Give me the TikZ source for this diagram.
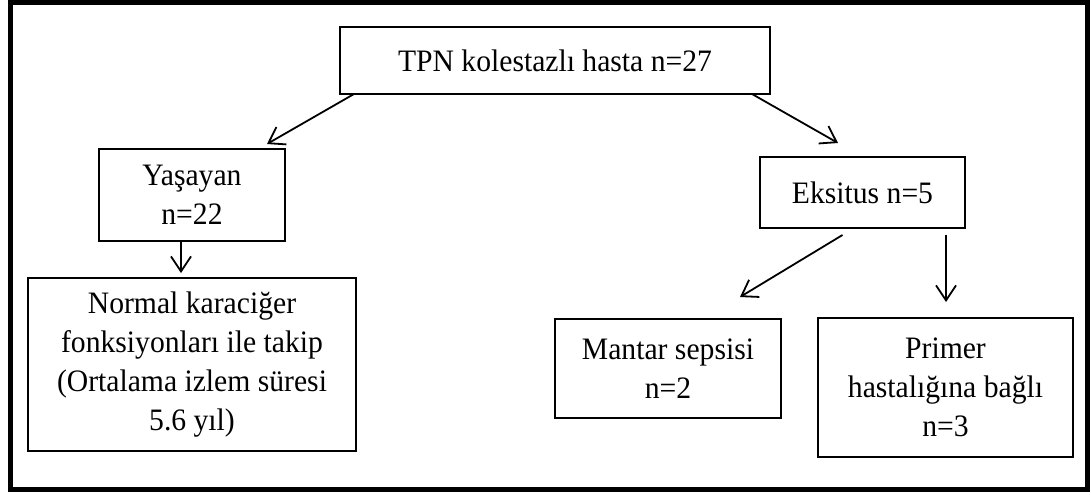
\documentclass[tikz,border=0pt]{standalone}
\usepackage{fontspec}
\setmainfont[FakeStretch=0.95]{Liberation Serif}
\usepackage{tikz}
\usetikzlibrary{arrows.meta,calc}

\begin{document}
\begin{tikzpicture}[x=0.5pt,y=-0.5pt]
  \tikzstyle{kutu}=[rectangle,draw=black,line width=1.1pt,inner sep=0pt,outer sep=0pt,align=center,font=\fontsize{15.6}{19.5}\selectfont]
  \tikzstyle{ok}=[line width=0.9pt,-{Straight Barb[length=7.5pt,width=10pt,line width=0.9pt]}]

  \useasboundingbox (0,0) rectangle (1091,494);
  \draw[line width=2.5pt] (10,2.5) rectangle (1087,489);

  \node[kutu,minimum width=215pt,minimum height=33.5pt] (tpn) at (555,60.5) {TPN kolestazlı hasta n=27};
  \node[kutu,minimum width=93pt,minimum height=46pt] (yas) at (192,195) {Yaşayan\\n=22};
  \node[kutu,minimum width=164pt,minimum height=86.5pt] (norm) at (192,364.5) {Normal karaciğer\\fonksiyonları ile takip\\(Ortalama izlem süresi\\5.6 yıl)};
  \node[kutu,minimum width=102.5pt,minimum height=35.5pt] (eks) at (862.5,192.5) {Eksitus n=5};
  \node[kutu,minimum width=113pt,minimum height=49.5pt] (mant) at (668,368.5) {Mantar sepsisi\\n=2};
  \node[kutu,minimum width=127.5pt,minimum height=69.5pt] (prim) at (945.5,387.5) {Primer\\hastalığına bağlı\\n=3};

  \draw[ok] ($(tpn.south west)+(14,0)$) -- ($(yas.north east)+(-18,-5)$);
  \draw[ok] ($(tpn.south east)+(-18,0)$) -- ($(eks.north west)+(78,-14)$);
  \draw[ok] ($(yas.south)+(-11,0)$) -- ($(norm.north)+(-11,-5)$);
  \draw[ok] ($(eks.south)+(-20,7)$) -- ($(mant.north east)+(-41,-22)$);
  \draw[ok] ($(eks.south east)+(-19,7)$) -- ($(prim.north west)+(128,-16)$);
\end{tikzpicture}
\end{document}
